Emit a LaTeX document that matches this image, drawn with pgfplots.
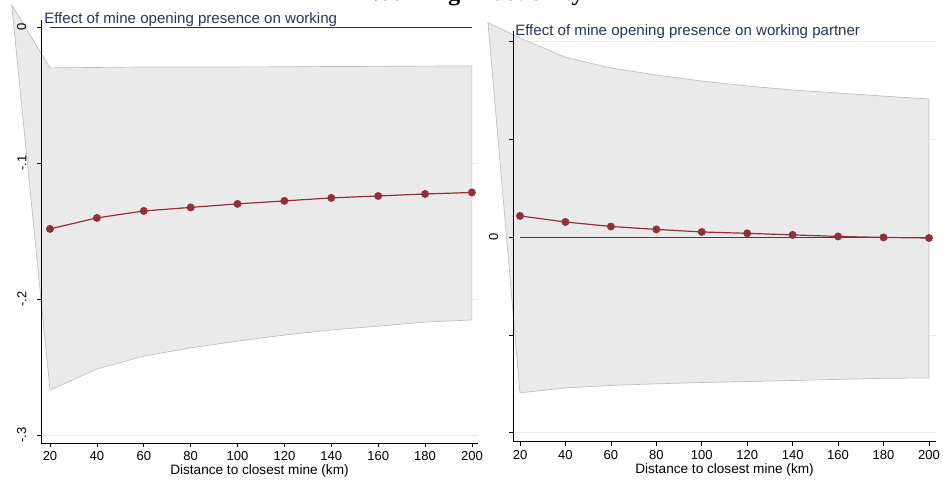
\documentclass[border=0pt]{standalone}
\usepackage{pgfplots}
\pgfplotsset{compat=1.18}
\usepackage{fontspec}
\setmainfont{Liberation Sans}
\newfontfamily\titleserif{Liberation Serif}
\definecolor{lineRed}{RGB}{144,48,56}
\definecolor{bandFill}{RGB}{234,234,234}
\definecolor{bandEdge}{RGB}{190,190,190}
\definecolor{titleNavy}{RGB}{38,52,92}
\definecolor{gridC}{RGB}{226,236,238}
\pgfplotsset{
  panel/.style={
    scale only axis, clip=false, axis on top,
    axis x line*=bottom, axis y line*=left,
    axis line style={-, black, line width=0.6pt},
    tick align=outside, major tick length=3pt,
    tick style={black, line width=0.5pt},
    xtick={20,40,...,200},
    /pgf/number format/assume math mode=true,
    tick label style={font=\fontsize{9.75pt}{11pt}\selectfont},
    yticklabel style={xshift=-4.5pt, rotate=90, anchor=south},
    xlabel={Distance to closest mine (km)},
    xlabel style={font=\fontsize{10.2pt}{11pt}\selectfont, yshift=4pt},
  }
}
\begin{document}
\begin{tikzpicture}
\useasboundingbox (0,0) rectangle (707.25pt,365.25pt);
\node[anchor=base, font=\titleserif\bfseries\fontsize{18.3pt}{20pt}\selectfont, inner sep=0] at (357pt,364.9pt) {Working Probability};

% ---------- left panel ----------
\begin{axis}[panel,
  at={(30.75pt,33pt)}, anchor=south west,
  width=327.75pt, height=317.25pt,
  xmin=16.16, xmax=202.6, ymin=-0.3059, ymax=0.0051,
  ytick={-0.3,-0.2,-0.1,0}, yticklabels={-.3,-.2,-.1,0},
]
\addplot[gridC, line width=0.6pt] coordinates {(16.16,-0.1)(202.6,-0.1)};
\addplot[gridC, line width=0.6pt] coordinates {(16.16,-0.2)(202.6,-0.2)};
\addplot[gridC, line width=0.6pt] coordinates {(16.16,-0.3)(202.6,-0.3)};
\addplot[fill=bandFill, draw=bandEdge, line width=0.5pt] coordinates {
  (3.66,0.0162)
  (20,-0.0301)(40,-0.0298)(60,-0.0294)(80,-0.0294)(100,-0.0294)
  (120,-0.0293)(140,-0.0291)(160,-0.0290)(180,-0.0288)(200,-0.0287)
  (200,-0.2154)(180,-0.2170)(160,-0.2200)(140,-0.2228)(120,-0.2265)
  (100,-0.2310)(80,-0.2360)(60,-0.2420)(40,-0.2515)(20,-0.2670)
} -- cycle;
\addplot[black!80, line width=0.6pt] coordinates {(20,0)(200,0)};
\addplot[lineRed, line width=0.9pt, mark=*, mark size=2.5pt, mark options={fill=lineRed, draw=lineRed}] coordinates {
  (20,-0.1485)(40,-0.1404)(60,-0.1353)(80,-0.1327)(100,-0.1301)
  (120,-0.1279)(140,-0.1257)(160,-0.1243)(180,-0.1228)(200,-0.1217)
};
\end{axis}
\node[anchor=base west, text=titleNavy, font=\fontsize{11.3pt}{13pt}\selectfont, inner sep=0] at (33pt,348pt) {Effect of mine opening presence on working};

% ---------- right panel ----------
\begin{axis}[panel,
  at={(384.75pt,33.975pt)}, anchor=south west,
  width=317.25pt, height=308.025pt,
  xmin=16.92, xmax=203.1, ymin=-0.1046, ymax=0.1055,
  ytick={-0.1,-0.05,0,0.05,0.1}, yticklabels={,,0,,},
]
\addplot[gridC, line width=0.6pt] coordinates {(16.92,0.1)(203.1,0.1)};
\addplot[gridC, line width=0.6pt] coordinates {(16.92,0.05)(203.1,0.05)};
\addplot[gridC, line width=0.6pt] coordinates {(16.92,-0.05)(203.1,-0.05)};
\addplot[gridC, line width=0.6pt] coordinates {(16.92,-0.1)(203.1,-0.1)};
\addplot[fill=bandFill, draw=bandEdge, line width=0.5pt] coordinates {
  (5.9,0.1098)
  (20,0.1019)(40,0.0921)(60,0.0866)(80,0.0830)(100,0.0799)
  (120,0.0774)(140,0.0753)(160,0.0738)(180,0.0722)(200,0.0707)
  (200,-0.0720)(180,-0.0722)(160,-0.0727)(140,-0.0733)(120,-0.0738)
  (100,-0.0743)(80,-0.0750)(60,-0.0758)(40,-0.0771)(20,-0.0796)
} -- cycle;
\addplot[black!75, line width=0.6pt] coordinates {(20,0)(200,0)};
\addplot[lineRed, line width=0.9pt, mark=*, mark size=2.5pt, mark options={fill=lineRed, draw=lineRed}] coordinates {
  (20,0.0109)(40,0.0078)(60,0.0055)(80,0.0040)(100,0.0027)
  (120,0.0020)(140,0.0012)(160,0.0004)(180,-0.0001)(200,-0.0004)
};
\end{axis}
\node[anchor=base west, text=titleNavy, font=\fontsize{11.3pt}{13pt}\selectfont, inner sep=0] at (386.25pt,338.25pt) {Effect of mine opening presence on working partner};
\end{tikzpicture}
\end{document}
